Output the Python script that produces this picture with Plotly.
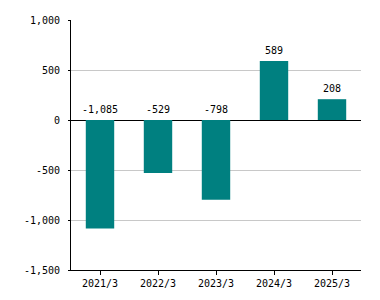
import plotly.graph_objects as go

categories = ["2021/3", "2022/3", "2023/3", "2024/3", "2025/3"]
values = [-1085, -529, -798, 589, 208]
label_texts = ["-1,085", "-529", "-798", "589", "208"]
y_ticks = [-1500, -1000, -500, 0, 500, 1000]
y_tick_labels = ["-1,500", "-1,000", "-500", "0", "500", "1,000"]

FONT = "DejaVu Sans Mono"

fig = go.Figure()
fig.add_trace(go.Bar(
    x=categories, y=values,
    marker=dict(color="#008080", line=dict(width=0)),
    width=0.49,
    hoverinfo="skip",
))

for c, v, t in zip(categories, values, label_texts):
    fig.add_annotation(
        x=c, y=max(v, 0), text=t, showarrow=False,
        yanchor="bottom", yshift=3,
        font=dict(family=FONT, size=10, color="#000000"),
    )

fig.update_layout(
    width=380, height=300,
    margin=dict(l=71, r=19, t=20, b=30),
    paper_bgcolor="white", plot_bgcolor="white",
    showlegend=False,
    bargap=0.5,
    font=dict(family=FONT, size=10, color="#000000"),
)
fig.update_xaxes(
    showline=True, linecolor="#000000", linewidth=1,
    ticks="outside", ticklen=4, tickcolor="#000000",
    showgrid=False, tickfont=dict(family=FONT, size=10, color="#000000"),
)
fig.update_yaxes(
    range=[-1500, 1000],
    tickvals=y_ticks, ticktext=y_tick_labels,
    showline=True, linecolor="#000000", linewidth=1,
    ticks="outside", ticklen=2, tickcolor="#000000",
    showgrid=True, gridcolor="#c8c8c8", gridwidth=1,
    zeroline=True, zerolinecolor="#000000", zerolinewidth=1,
    tickfont=dict(family=FONT, size=10, color="#000000"),
    ticklabelstandoff=6,
)

fig.write_html("out.html")
